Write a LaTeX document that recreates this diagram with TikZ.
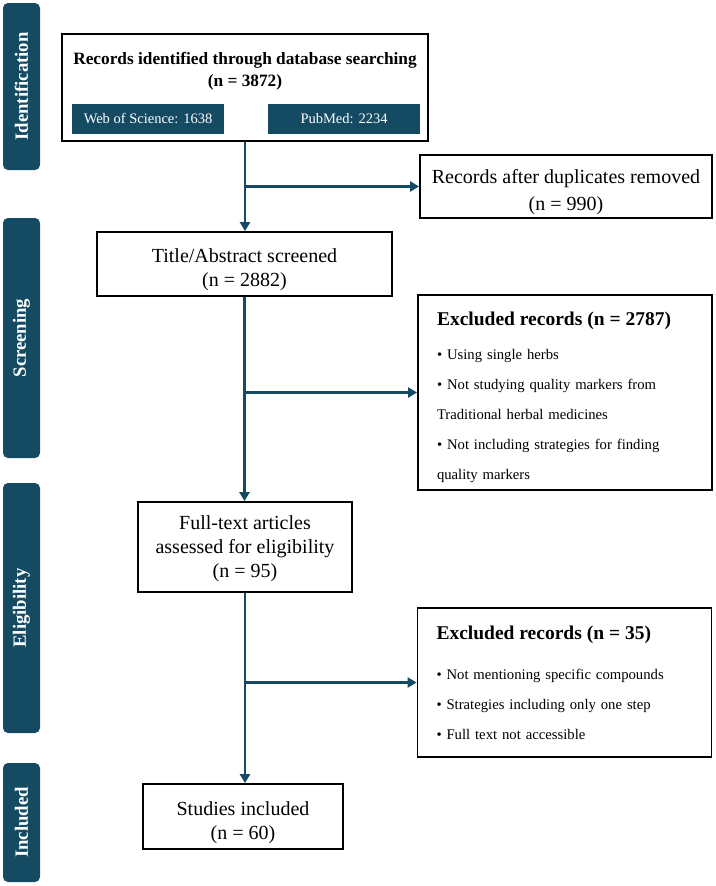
\documentclass[tikz,border=0pt]{standalone}
\usepackage{fontspec}
\setmainfont{Liberation Serif}
\usetikzlibrary{arrows.meta,calc}
\definecolor{prismablue}{RGB}{21,74,99}

\begin{document}
\begin{tikzpicture}[x=1pt,y=-1pt,>={Triangle[length=9pt,width=10pt]},
    stagebar/.style={fill=prismablue,rounded corners=5pt,minimum height=37pt,
        rotate=90,text=white,inner sep=0pt,font=\fontsize{18.7}{22}\selectfont\bfseries},
    box/.style={draw=black,line width=1.8pt,fill=white,align=center,inner sep=0pt,
        font=\fontsize{20}{24}\selectfont},
    dbbox/.style={fill=prismablue,text=white,minimum width=152pt,minimum height=30pt,
        inner sep=0pt,font=\fontsize{14.5}{16}\selectfont},
    exclbox/.style={draw=black,line width=1.8pt,align=left,inner xsep=19pt,
        text width=256pt,font=\fontsize{14.7}{30}\selectfont},
    flow/.style={draw=prismablue,line width=2.8pt}]
    \useasboundingbox (0,0) rectangle (715,886);

    % === Left: stage bars ===
    \node[stagebar,minimum width=167pt] (barIdent) at (21.5,86.5) {Identification};
    \node[stagebar,minimum width=240pt] (barScreen) at (21.5,338) {Screening};
    \node[stagebar,minimum width=250pt] (barElig) at (21.5,608) {Eligibility};
    \node[stagebar,minimum width=119pt] (barIncl) at (21.5,822.5) {Included};

    % === Identification ===
    \node[box,minimum width=366pt,minimum height=107pt] (ident) at (245,87.5) {};
    \node[font=\fontsize{17.3}{22}\selectfont\bfseries,align=center] (identTitle) at (245,71)
        {Records identified through database searching\\(n = 3872)};
    \node[dbbox] (wos) at (148,119) {Web of Science: 1638};
    \node[dbbox] (pubmed) at (344,119) {PubMed: 2234};

    \node[box,minimum width=292pt,minimum height=63pt,font=\fontsize{20}{27}\selectfont]
        (dup) at (566,186.5) {\rule{0pt}{26pt}Records after duplicates removed\\(n = 990)};

    % === Screening ===
    \node[box,minimum width=295pt,minimum height=64pt] (title) at (244.5,264)
        {\rule{0pt}{26pt}Title/Abstract screened\\(n = 2882)};
    \node[exclbox,minimum height=195pt] (excl1) at (565,392.5)
        {{\fontsize{19.5}{30}\selectfont\bfseries\rule{0pt}{23pt}Excluded records (n = 2787)}\\[4pt]
         • Using single herbs\\
         • Not studying quality markers from\\
         Traditional herbal medicines\\
         • Not including strategies for finding\\
         quality markers};

    % === Eligibility ===
    \node[box,minimum width=214pt,minimum height=90pt] (full) at (245,547)
        {\rule{0pt}{18pt}Full-text articles\\assessed for eligibility\\(n = 95)};
    \node[exclbox,minimum height=149pt] (excl2) at (564.5,682.5)
        {{\fontsize{19.5}{30}\selectfont\bfseries Excluded records (n = 35)}\\[10pt]
         • Not mentioning specific compounds\\
         • Strategies including only one step\\
         • Full text not accessible};

    % === Included ===
    \node[box,minimum width=200pt,minimum height=65pt] (incl) at (243,816.5)
        {\rule{0pt}{26pt}Studies included\\(n = 60)};

    % Connectors
    \draw[flow,->] (ident.south) -- (ident.south |- title.north);
    \draw[flow,->] (ident.south |- dup.west) -- (dup.west);
    \draw[flow,->] (title.south) -- (title.south |- full.north);
    \draw[flow,->] (title.south |- excl1.west) -- (excl1.west);
    \draw[flow,->] (full.south) -- (full.south |- incl.north);
    \draw[flow,->] (full.south |- excl2.west) -- (excl2.west);
\end{tikzpicture}
\end{document}
